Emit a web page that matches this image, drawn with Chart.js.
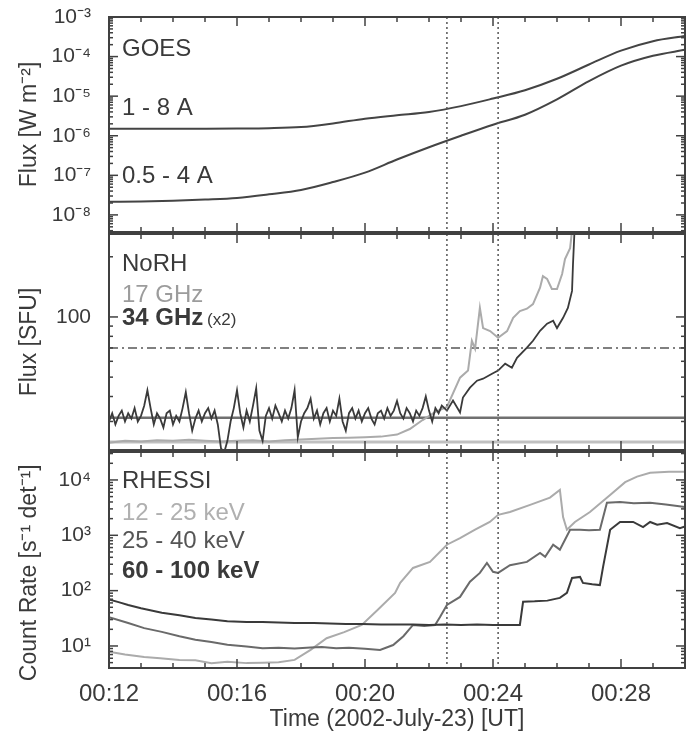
<!DOCTYPE html>
<html>
<head>
<meta charset="utf-8">
<script src="https://cdn.jsdelivr.net/npm/chart.js"></script>
<style>
  body { margin: 0; background: #fff; }
  #panel { position: relative; width: 686px; height: 733px; }
  canvas { position: absolute; left: 0; }
</style>
</head>
<body>
<div id="panel">
  <canvas id="goes" width="686" height="234" style="top:0"></canvas>
  <canvas id="norh" width="686" height="219" style="top:232px"></canvas>
  <canvas id="rhessi" width="686" height="283" style="top:450px"></canvas>
</div>
<script>
// --- GOES, W m^-2 (tiempo en minutos despues de las 00:00 UT)
const goesTiempos = [12, 13, 14, 15, 16, 17, 18, 19, 20, 21, 22, 23, 24, 25, 26, 27, 28, 29, 30];
const goes18 = [1.51e-6, 1.51e-6, 1.51e-6, 1.51e-6, 1.52e-6, 1.55e-6, 1.66e-6, 2.05e-6, 2.7e-6, 3.3e-6, 4.0e-6, 5.6e-6, 8.7e-6, 1.41e-5, 2.75e-5, 6.3e-5, 1.41e-4, 2.45e-4, 3.3e-4];
const goes054 = [2.14e-8, 2.19e-8, 2.29e-8, 2.45e-8, 2.69e-8, 3.31e-8, 4.27e-8, 6.76e-8, 1.17e-7, 2.51e-7, 5.13e-7, 1.0e-6, 1.9e-6, 3.4e-6, 8.3e-6, 2.4e-5, 5.9e-5, 1.05e-4, 1.48e-4];
const goesTicks = [1e-8, 1e-7, 1e-6, 1e-5, 1e-4, 1e-3];
const goesEtiquetas = ['10⁻⁸', '10⁻⁷', '10⁻⁶', '10⁻⁵', '10⁻⁴', '10⁻³'];

// --- NoRH, SFU
const norhInicio = 12.0;
const norhPaso = 0.1;
const norh34Ruido = [
  30, 33, 29, 32, 34, 30, 33, 31, 35, 30,
  32, 36, 43, 35, 29, 33, 31, 28, 33, 34,
  29, 32, 30, 35, 42, 33, 27, 31, 34, 30,
  33, 35, 31, 34, 29, 22, 21, 24, 30, 35,
  43, 33, 28, 34, 30, 36, 44, 27, 24, 32,
  35, 31, 36, 33, 30, 34, 31, 35, 43, 25,
  30, 33, 35, 39, 31, 34, 29, 33, 35, 30,
  34, 32, 39, 30, 27, 33, 35, 31, 34, 30,
  33, 35, 31, 29, 33, 34, 31, 35, 32, 34,
  38, 33, 31, 35, 33, 30, 34, 32, 35, 40,
  34, 30, 35, 33, 36
];
const norh34Tiempos = [22.56, 22.75, 22.97, 23.06, 23.28, 23.5, 23.69, 23.97, 24.16, 24.38, 24.59, 24.75, 25.06, 25.25, 25.47, 25.69, 25.88, 26.0, 26.19, 26.34, 26.47, 26.5, 26.56];
const norh34Valores = [34, 38.2, 33.3, 39.5, 44.3, 48, 49.1, 52, 53.9, 58.4, 55.7, 62.5, 70.2, 76, 85.3, 92.5, 95.7, 88, 99, 111, 135, 184, 300];
const norh17Tiempos = [12, 12.5, 13, 13.5, 14, 14.5, 15, 15.5, 16, 16.5, 17, 17.5, 18, 18.5, 19, 19.5, 20, 20.5, 21.0, 21.4, 21.8, 22.2, 22.56, 22.97, 23.22, 23.34, 23.44, 23.59, 23.69, 23.91, 24.16, 24.44, 24.63, 24.84, 25.06, 25.25, 25.47, 25.56, 25.69, 25.84, 26.0, 26.16, 26.25, 26.41, 26.5];
const norh17Valores = [23.5, 24, 23.8, 24.2, 24, 24.3, 24, 23.8, 24, 24.2, 23.8, 24.2, 24.4, 24.6, 24.8, 24.9, 25, 25.2, 25.8, 27.5, 30.5, 33.5, 35.5, 49.7, 53.9, 76, 69.3, 111, 88, 85, 78.7, 85, 99, 107, 110, 116, 140, 160, 155, 138, 138, 164, 195, 221, 300];
const norhFondo34 = 31.3;
const norhFondo17 = 23.7;
const norhUmbral = 70;
const norhTicks = [100];
const norhEtiquetas = ['100'];

// --- RHESSI, s^-1 det^-1
const rh60Tiempos = [12, 12.3, 12.6, 13.0, 13.65, 14.2, 14.7, 15.2, 15.7, 16.3, 16.8, 17.3, 17.8, 18.4, 18.9, 19.4, 19.9, 20.5, 21.0, 21.5, 22.0, 22.5, 23.0, 23.5, 24.0, 24.5, 24.84, 24.94, 25.3, 25.7, 26.09, 26.31, 26.47, 26.72, 26.81, 27.1, 27.34, 27.44, 27.66, 27.97, 28.38, 28.69, 28.91, 29.13, 29.44, 29.84, 30];
const rh60Valores = [69, 62, 55, 48, 40, 36, 32, 30, 28, 27, 27, 26.5, 26, 26, 25.5, 25, 25, 24.5, 24.5, 24.5, 24, 24.5, 24, 24.5, 24, 24, 24, 63, 64, 66, 74, 91, 170, 177, 138, 130, 126, 269, 1260, 1740, 1740, 1410, 1740, 1550, 1660, 1350, 1450];
const rh25Tiempos = [12, 12.6, 13.1, 13.65, 14.2, 14.7, 15.2, 15.7, 16.3, 16.8, 17.3, 17.8, 18.3, 18.65, 19.1, 19.5, 20.0, 20.47, 20.88, 21.2, 21.5, 21.85, 22.19, 22.34, 22.56, 22.97, 23.28, 23.59, 23.81, 24.0, 24.16, 24.53, 25.06, 25.47, 25.63, 25.88, 26.09, 26.25, 26.41, 26.72, 27.0, 27.34, 27.56, 27.97, 28.4, 28.91, 29.4, 30];
const rh25Valores = [33, 26, 21, 18, 15, 13, 11.8, 10.5, 9.8, 9.1, 9.3, 9.0, 9.4, 9.6, 9.1, 9.3, 8.9, 8.5, 10.4, 15, 24, 23, 24, 33, 55, 77, 145, 209, 316, 219, 209, 288, 331, 479, 407, 676, 550, 832, 1260, 1260, 1230, 1260, 3890, 3980, 3800, 3890, 3600, 3240];
const rh12Tiempos = [12, 12.5, 13.1, 13.6, 14.2, 14.7, 15.2, 15.7, 16.3, 16.8, 17.3, 17.8, 18.3, 18.8, 19.35, 19.9, 20.4, 20.94, 21.1, 21.5, 22.03, 22.56, 22.97, 23.44, 23.9, 24.16, 24.53, 25.16, 25.78, 26.09, 26.19, 26.31, 26.56, 27.03, 27.66, 28.13, 28.5, 28.91, 29.5, 30];
const rh12Valores = [7.9, 7.0, 6.3, 6.0, 5.6, 5.5, 4.9, 5.2, 4.9, 5.0, 5.1, 5.6, 8.5, 13.8, 17.8, 24, 45, 91, 138, 257, 331, 676, 891, 1260, 1740, 2340, 2630, 3550, 4790, 6610, 2140, 1260, 1740, 2630, 5370, 9120, 11500, 13500, 14000, 14100];
const rhessiTicks = [10, 100, 1000, 10000];
const rhessiEtiquetas = ['10¹', '10²', '10³', '10⁴'];

// --- eje de tiempo y marcas punteadas
const horaTicks = [12, 16, 20, 24, 28];
const horaEtiquetas = ['00:12', '00:16', '00:20', '00:24', '00:28'];
const marcasTiempo = [22.56, 24.16];

const familia = "'Liberation Sans', Arial, Helvetica, sans-serif";
const oscuro = '#3a3a3a';
const medio = '#6a6a6a';
const claro = '#ababab';
Chart.defaults.font.family = familia;
Chart.defaults.color = oscuro;

const serie = (tiempos, valores, color, extra = {}) => ({
  data: tiempos.map((t, i) => ({ x: t, y: valores[i] })),
  borderColor: color,
  borderWidth: 2,
  pointRadius: 0,
  fill: false,
  tension: 0,
  ...extra,
});
const nivel = (valor, color, extra = {}) => serie([12, 30], [valor, valor], color, extra);

const ejeY = (min, max, ticks, etiquetas, titulo) => ({
  type: 'logarithmic',
  min,
  max,
  afterBuildTicks: (s) => { s.ticks = ticks.map((v) => ({ value: v })); },
  afterFit: (s) => {
    s.width = 109;
    s.paddingTop = 0;
    s.paddingBottom = 0;
  },
  grid: { display: false },
  border: { display: false },
  ticks: { autoSkip: false, padding: 10, font: { size: 21 }, color: oscuro, callback: (v, i) => etiquetas[i] },
  title: { display: true, text: titulo, font: { size: 23 }, color: oscuro, padding: { top: 16, bottom: 0 } },
});

const ejeX = (visible) => ({
  type: 'linear',
  min: 12,
  max: 30,
  display: visible,
  afterBuildTicks: (s) => { s.ticks = horaTicks.map((v) => ({ value: v })); },
  afterFit: (s) => {
    if (visible) s.height = 65;
    s.paddingLeft = 0;
    s.paddingRight = 0;
  },
  grid: { display: false },
  border: { display: false },
  ticks: { autoSkip: false, maxRotation: 0, padding: 4, font: { size: 24 }, color: oscuro, callback: (v, i) => horaEtiquetas[i] },
  title: { display: true, text: 'Time (2002-July-23) [UT]', font: { size: 23 }, color: oscuro, padding: 0 },
});

// marco, marcas de eje hacia adentro y lineas punteadas
const marcoPanel = {
  id: 'marcoPanel',
  afterDatasetsDraw(chart) {
    const { ctx, chartArea: a, scales: { x, y } } = chart;
    const linea = (x1, y1, x2, y2) => { ctx.beginPath(); ctx.moveTo(x1, y1); ctx.lineTo(x2, y2); ctx.stroke(); };
    ctx.save();
    ctx.strokeStyle = '#555';
    ctx.lineWidth = 1.5;
    ctx.setLineDash([2, 3]);
    marcasTiempo.forEach((t) => {
      const px = x.getPixelForValue(t);
      linea(px, a.top, px, a.bottom);
    });
    ctx.setLineDash([]);
    ctx.strokeStyle = '#404040';
    ctx.lineWidth = 2;
    ctx.strokeRect(a.left, a.top, a.right - a.left, a.bottom - a.top);
    ctx.lineWidth = 1.5;
    for (let t = x.min; t <= x.max; t++) {
      const px = x.getPixelForValue(t);
      const largo = t % 4 === 0 ? 9 : 5;
      linea(px, a.bottom, px, a.bottom - largo);
      linea(px, a.top, px, a.top + largo);
    }
    const lo = Math.floor(Math.log10(y.min));
    const hi = Math.ceil(Math.log10(y.max));
    for (let e = lo; e <= hi; e++) {
      for (let m = 1; m <= 9; m++) {
        const v = m * Math.pow(10, e);
        if (v < y.min || v > y.max) continue;
        const py = y.getPixelForValue(v);
        const largo = m === 1 ? 9 : 4;
        linea(a.left, py, a.left + largo, py);
        linea(a.right, py, a.right - largo, py);
      }
    }
    ctx.restore();
  },
};

const textosPanel = {
  id: 'textos',
  afterDraw(chart, args, opts) {
    const { ctx, chartArea: a } = chart;
    ctx.save();
    ctx.textBaseline = 'middle';
    (opts.items || []).forEach((it) => {
      ctx.font = `${it.negrita ? 'bold ' : ''}24px ${familia}`;
      ctx.fillStyle = it.color;
      const x0 = a.left + 13;
      ctx.fillText(it.text, x0, a.top + it.dy);
      if (it.sufijo) {
        const w = ctx.measureText(it.text + ' ').width;
        ctx.font = `17px ${familia}`;
        ctx.fillText(it.sufijo, x0 + w - 3, a.top + it.dy + 2);
      }
    });
    ctx.restore();
  },
};

const crearPanel = (id, datasets, escalaY, conEjeX, padding, textos) => new Chart(document.getElementById(id), {
  type: 'line',
  data: { datasets },
  options: {
    responsive: false,
    animation: false,
    layout: { padding },
    scales: { x: ejeX(conEjeX), y: escalaY },
    plugins: { legend: { display: false }, tooltip: { enabled: false }, textos: { items: textos } },
  },
  plugins: [marcoPanel, textosPanel],
});

crearPanel('goes', [
  serie(goesTiempos, goes18, '#444', { cubicInterpolationMode: 'monotone' }),
  serie(goesTiempos, goes054, '#444', { cubicInterpolationMode: 'monotone' }),
], ejeY(3.7e-9, 1e-3, goesTicks, goesEtiquetas, 'Flux [W m⁻²]'), false,
{ top: 17, right: 1, bottom: 2, left: 0 }, [
  { text: 'GOES', color: oscuro, dy: 32 },
  { text: '1 - 8 A', color: oscuro, dy: 91 },
  { text: '0.5 - 4 A', color: oscuro, dy: 159 },
]);

const norh34X = norh34Ruido.map((v, i) => norhInicio + i * norhPaso).concat(norh34Tiempos);
const norh34Y = norh34Ruido.concat(norh34Valores);
crearPanel('norh', [
  serie(norh34X, norh34Y, oscuro, { borderWidth: 1.8 }),
  serie(norh17Tiempos, norh17Valores, claro),
  nivel(norhFondo34, '#707070', { borderWidth: 2.5 }),
  nivel(norhFondo17, '#c0c0c0', { borderWidth: 3 }),
  nivel(norhUmbral, '#808080', { borderWidth: 2, borderDash: [9, 4, 2, 4] }),
], ejeY(21.6, 260, norhTicks, norhEtiquetas, 'Flux [SFU]'), false,
{ top: 2, right: 1, bottom: 1, left: 0 }, [
  { text: 'NoRH', color: oscuro, dy: 30 },
  { text: '17 GHz', color: '#9c9c9c', dy: 61 },
  { text: '34 GHz', color: oscuro, dy: 84, negrita: true, sufijo: '(x2)' },
]);

crearPanel('rhessi', [
  serie(rh60Tiempos, rh60Valores, oscuro),
  serie(rh25Tiempos, rh25Valores, medio),
  serie(rh12Tiempos, rh12Valores, claro),
], ejeY(4.0, 32000, rhessiTicks, rhessiEtiquetas, 'Count Rate [s⁻¹ det⁻¹]    '), true,
{ top: 2, right: 1, bottom: 0, left: 0 }, [
  { text: 'RHESSI', color: oscuro, dy: 29 },
  { text: '12 - 25 keV', color: '#b0b0b0', dy: 61 },
  { text: '25 - 40 keV', color: '#555', dy: 89 },
  { text: '60 - 100 keV', color: oscuro, dy: 119, negrita: true },
]);
</script>
</body>
</html>
